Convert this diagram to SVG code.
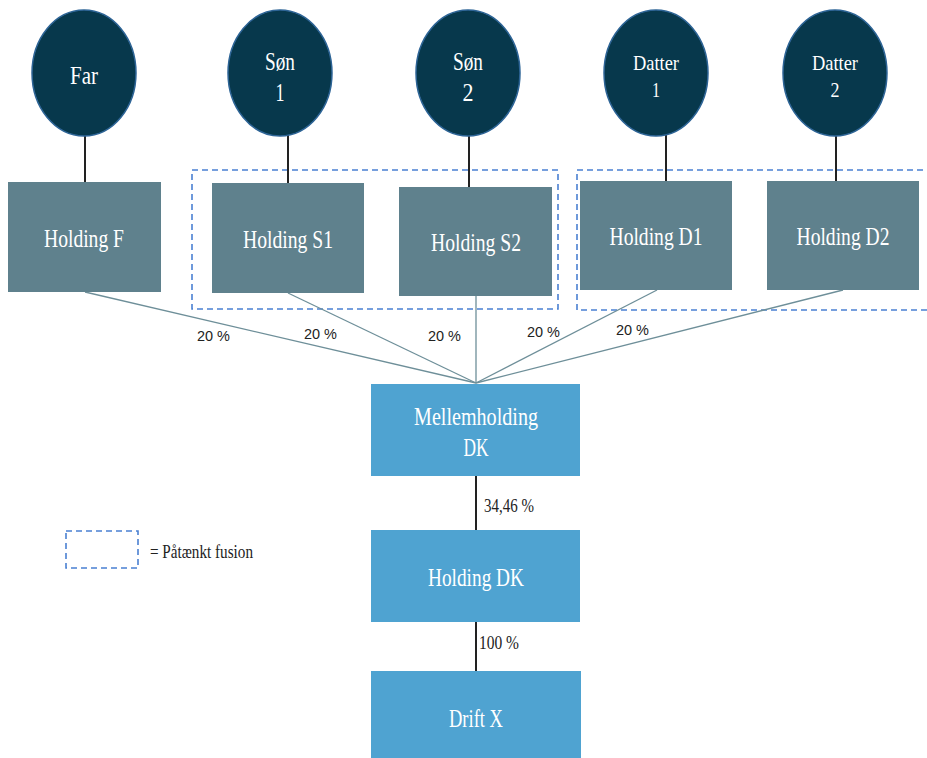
<svg xmlns="http://www.w3.org/2000/svg" width="927" height="758" viewBox="0 0 927 758">
<style>
.person{fill:#07384c;stroke:#2d6496;stroke-width:1.5}
.hold{fill:#5f818d}
.blue{fill:#4fa3d1}
.lbl{font-family:"Liberation Serif","DejaVu Serif",serif;fill:#ffffff;text-anchor:middle}
.pct{font-family:"Liberation Sans","DejaVu Sans",sans-serif;fill:#222;font-size:15px}
.pcts{font-family:"Liberation Serif","DejaVu Serif",serif;fill:#222;font-size:18px}
.fan{stroke:#6e8f99;stroke-width:1.3;fill:none}
.dark{stroke:#222;stroke-width:2;fill:none}
.fus{fill:none;stroke:#4a80d2;stroke-width:1.6;stroke-dasharray:6,4}
</style>
<rect width="927" height="758" fill="#ffffff"/>
<g id="fusion-groups">
<rect class="fus" x="192" y="170" width="366" height="139"/>
<rect class="fus" x="577" y="170" width="360" height="140"/>
</g>
<g id="connectors">
<line class="dark" x1="85" y1="128" x2="85" y2="182"/>
<line class="dark" x1="288" y1="130" x2="288" y2="183"/>
<line class="dark" x1="469" y1="134" x2="469" y2="187"/>
<line class="dark" x1="666" y1="128" x2="666" y2="181"/>
<line class="dark" x1="836" y1="127" x2="836" y2="181"/>
<line class="fan" x1="85" y1="292" x2="476" y2="383"/>
<line class="fan" x1="288" y1="293" x2="476" y2="383"/>
<line class="fan" x1="476" y1="296" x2="476" y2="383"/>
<line class="fan" x1="657" y1="290" x2="476" y2="383"/>
<line class="fan" x1="843" y1="290" x2="476" y2="383"/>
<line class="dark" x1="476" y1="476" x2="476" y2="530"/>
<line class="dark" x1="476" y1="617" x2="476" y2="671"/>
<text class="pct" x="197" y="341" textLength="33" lengthAdjust="spacingAndGlyphs">20 %</text>
<text class="pct" x="304" y="339" textLength="33" lengthAdjust="spacingAndGlyphs">20 %</text>
<text class="pct" x="428" y="341" textLength="33" lengthAdjust="spacingAndGlyphs">20 %</text>
<text class="pct" x="527" y="337" textLength="33" lengthAdjust="spacingAndGlyphs">20 %</text>
<text class="pct" x="616" y="335" textLength="33" lengthAdjust="spacingAndGlyphs">20 %</text>
<text class="pcts" x="484" y="512" textLength="50" lengthAdjust="spacingAndGlyphs">34,46 %</text>
<text class="pcts" x="479" y="649" textLength="40" lengthAdjust="spacingAndGlyphs">100 %</text>
</g>
<g id="far">
<ellipse class="person" cx="84" cy="73" rx="52" ry="63"/>
<text class="lbl" x="84" y="84" font-size="26" textLength="28" lengthAdjust="spacingAndGlyphs">Far</text>
</g>
<g id="son1">
<ellipse class="person" cx="280" cy="73" rx="52" ry="63"/>
<text class="lbl" x="280" y="70" font-size="26" textLength="30" lengthAdjust="spacingAndGlyphs">Søn</text>
<text class="lbl" x="280" y="101" font-size="26" textLength="9" lengthAdjust="spacingAndGlyphs">1</text>
</g>
<g id="son2">
<ellipse class="person" cx="468" cy="73" rx="52" ry="63"/>
<text class="lbl" x="468" y="70" font-size="26" textLength="30" lengthAdjust="spacingAndGlyphs">Søn</text>
<text class="lbl" x="468" y="101" font-size="26" textLength="11" lengthAdjust="spacingAndGlyphs">2</text>
</g>
<g id="datter1">
<ellipse class="person" cx="656" cy="73" rx="52" ry="63"/>
<text class="lbl" x="656" y="70" font-size="22" textLength="46" lengthAdjust="spacingAndGlyphs">Datter</text>
<text class="lbl" x="656" y="97" font-size="22" textLength="8" lengthAdjust="spacingAndGlyphs">1</text>
</g>
<g id="datter2">
<ellipse class="person" cx="835" cy="73" rx="52" ry="63"/>
<text class="lbl" x="835" y="70" font-size="22" textLength="46" lengthAdjust="spacingAndGlyphs">Datter</text>
<text class="lbl" x="835" y="97" font-size="22" textLength="9" lengthAdjust="spacingAndGlyphs">2</text>
</g>
<g id="holding-f">
<rect class="hold" x="8" y="182" width="153" height="110"/>
<text class="lbl" x="84" y="247" font-size="26" textLength="80" lengthAdjust="spacingAndGlyphs">Holding F</text>
</g>
<g id="holding-s1">
<rect class="hold" x="212" y="183" width="152" height="110"/>
<text class="lbl" x="288" y="248" font-size="26" textLength="90" lengthAdjust="spacingAndGlyphs">Holding S1</text>
</g>
<g id="holding-s2">
<rect class="hold" x="399" y="187" width="153" height="109"/>
<text class="lbl" x="476" y="251" font-size="26" textLength="90" lengthAdjust="spacingAndGlyphs">Holding S2</text>
</g>
<g id="holding-d1">
<rect class="hold" x="580" y="181" width="152" height="109"/>
<text class="lbl" x="656" y="245" font-size="26" textLength="93" lengthAdjust="spacingAndGlyphs">Holding D1</text>
</g>
<g id="holding-d2">
<rect class="hold" x="767" y="181" width="152" height="109"/>
<text class="lbl" x="843" y="245" font-size="26" textLength="93" lengthAdjust="spacingAndGlyphs">Holding D2</text>
</g>
<g id="mellemholding">
<rect class="blue" x="371" y="384" width="209" height="92"/>
<text class="lbl" x="476" y="425" font-size="26" textLength="124" lengthAdjust="spacingAndGlyphs">Mellemholding</text>
<text class="lbl" x="476" y="456" font-size="26" textLength="25" lengthAdjust="spacingAndGlyphs">DK</text>
</g>
<g id="holding-dk">
<rect class="blue" x="371" y="530" width="209" height="92"/>
<text class="lbl" x="476" y="586" font-size="26" textLength="96" lengthAdjust="spacingAndGlyphs">Holding DK</text>
</g>
<g id="drift-x">
<rect class="blue" x="371" y="671" width="210" height="92"/>
<text class="lbl" x="476" y="727" font-size="26" textLength="54" lengthAdjust="spacingAndGlyphs">Drift X</text>
</g>
<g id="legend">
<rect class="fus" x="66" y="531" width="72" height="37"/>
<text x="150" y="558" font-family="Liberation Serif, DejaVu Serif, serif" font-size="18" fill="#222" textLength="103" lengthAdjust="spacingAndGlyphs">= Påtænkt fusion</text>
</g>
</svg>
